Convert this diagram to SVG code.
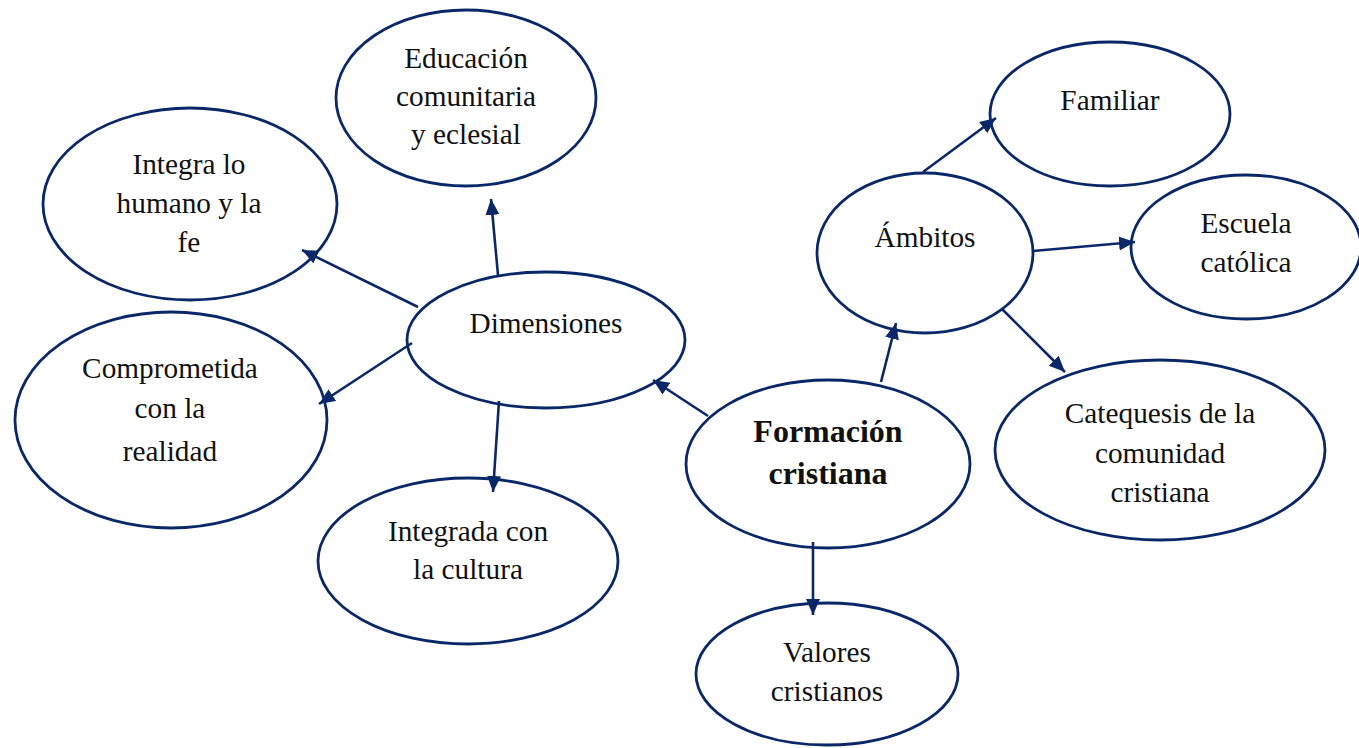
<svg xmlns="http://www.w3.org/2000/svg" width="1359" height="748" viewBox="0 0 1359 748">
<defs>
<style>
.n ellipse{fill:#ffffff;stroke:#0a2868;stroke-width:2.8}
.n text{font-family:"Liberation Serif","Times New Roman",serif;font-size:29.3px;fill:#111111;text-anchor:middle}
.n text.b{font-weight:bold;font-size:32px}
.c line{stroke:#0a2868;stroke-width:2.6;marker-end:url(#ah)}
</style>
<marker id="ah" markerUnits="userSpaceOnUse" markerWidth="17" markerHeight="15" refX="16" refY="7" orient="auto">
<path d="M0,0 L16,7 L0,14 Z" fill="#0a2868"/>
</marker>
</defs>
<rect width="1359" height="748" fill="#ffffff"/>
<g class="n" id="educacion">
<ellipse cx="466" cy="98" rx="130" ry="88"/>
<text x="466" y="68">Educación</text>
<text x="466" y="106">comunitaria</text>
<text x="466" y="144">y eclesial</text>
</g>
<g class="n" id="integra">
<ellipse cx="190" cy="204" rx="147" ry="96"/>
<text x="189" y="174">Integra lo</text>
<text x="189" y="213">humano y la</text>
<text x="189" y="252">fe</text>
</g>
<g class="n" id="comprometida">
<ellipse cx="171" cy="420" rx="156" ry="108"/>
<text x="170" y="378">Comprometida</text>
<text x="170" y="418">con la</text>
<text x="170" y="461">realidad</text>
</g>
<g class="n" id="dimensiones">
<ellipse cx="546" cy="340" rx="139" ry="68"/>
<text x="546" y="333">Dimensiones</text>
</g>
<g class="n" id="integrada">
<ellipse cx="468" cy="561" rx="150" ry="83"/>
<text x="468" y="541">Integrada con</text>
<text x="468" y="579">la cultura</text>
</g>
<g class="n" id="formacion">
<ellipse cx="828" cy="464" rx="142" ry="84"/>
<text class="b" x="828" y="442">Formación</text>
<text class="b" x="828" y="484">cristiana</text>
</g>
<g class="n" id="valores">
<ellipse cx="827" cy="674" rx="131" ry="71"/>
<text x="827" y="662">Valores</text>
<text x="827" y="701">cristianos</text>
</g>
<g class="n" id="ambitos">
<ellipse cx="925" cy="253" rx="108" ry="80"/>
<text x="925" y="247">Ámbitos</text>
</g>
<g class="n" id="familiar">
<ellipse cx="1110" cy="114" rx="120" ry="72"/>
<text x="1110" y="110">Familiar</text>
</g>
<g class="n" id="escuela">
<ellipse cx="1246" cy="247" rx="115" ry="72"/>
<text x="1246" y="233">Escuela</text>
<text x="1246" y="272">católica</text>
</g>
<g class="n" id="catequesis">
<ellipse cx="1160" cy="450" rx="165" ry="90"/>
<text x="1160" y="423">Catequesis de la</text>
<text x="1160" y="463">comunidad</text>
<text x="1160" y="502">cristiana</text>
</g>
<g class="c" id="connectors">
<line x1="498" y1="275" x2="491" y2="199"/>
<line x1="418" y1="307" x2="302" y2="250"/>
<line x1="412" y1="343" x2="319" y2="404"/>
<line x1="499" y1="401" x2="493" y2="492"/>
<line x1="708" y1="416" x2="653" y2="380"/>
<line x1="881" y1="382" x2="896" y2="323"/>
<line x1="923" y1="172" x2="996" y2="118"/>
<line x1="1033" y1="251" x2="1135" y2="242"/>
<line x1="1002" y1="309" x2="1065" y2="372"/>
<line x1="813" y1="542" x2="813" y2="615"/>
</g>
</svg>
